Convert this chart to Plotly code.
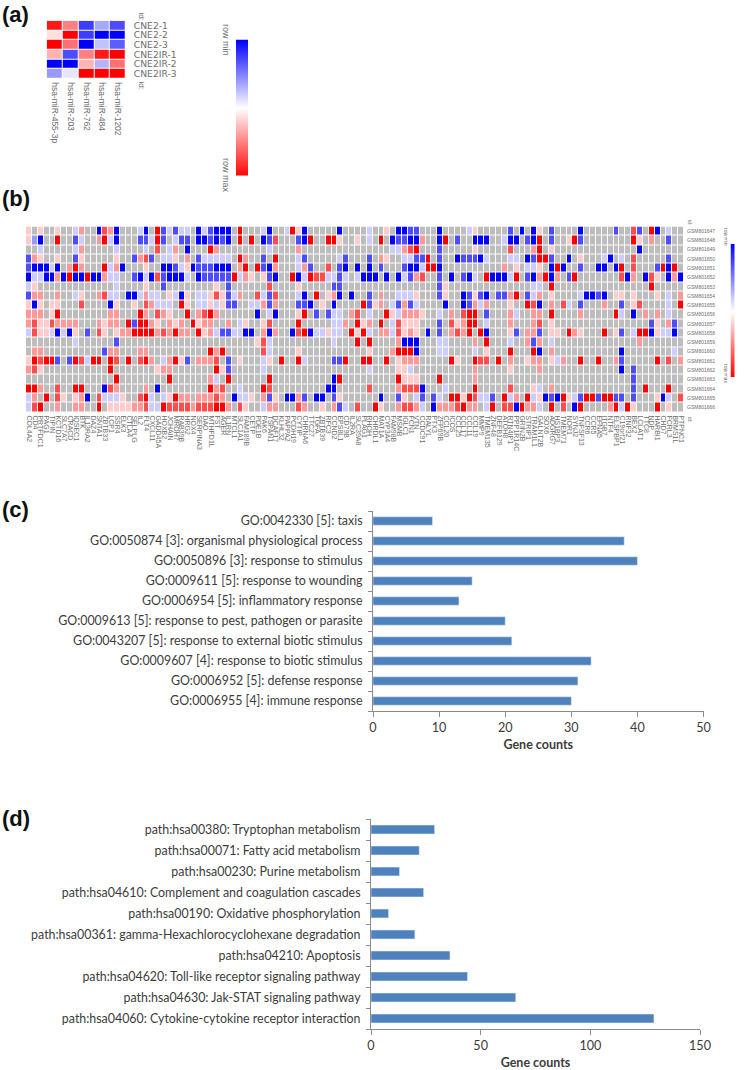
import plotly.graph_objects as go

W, H = 749, 1070

# ---------- panel (a) ----------
A_GENES = ["hsa-miR-455-3p", "hsa-miR-203", "hsa-miR-762", "hsa-miR-484", "hsa-miR-1202"]
A_SAMPLES = ["CNE2-1", "CNE2-2", "CNE2-3", "CNE2IR-1", "CNE2IR-2", "CNE2IR-3"]
A_VALUES = [
    [.95, .75, .12, .33, .15],
    [.56, 1, .12, 0, 0],
    [1, .78, 0, .38, .18],
    [.65, .15, .75, .95, 1],
    [0, 0, .65, .35, .78],
    [.3, .45, 1, 1, 1],
]
LEGEND_STOPS = [0, .5, 1]

# ---------- panel (b) ----------
B_GENES = """COL4A2 CD4 PRTFDC1 PAG1 TIPIN KCTD16 SLC7A7 CRACD IQSEC1 BTK IL13RA2 DAZ4 SNTA1 ZBTB33 LCP1 SSR4 ELK3 CTLA4
SELPLG IL2 FLT4 CXCL11 GADD45A HOXB2 JCHAIN MROH7 RAB39B HRG2 NOX4 SERPINA3 DAO MTHFD1L FST AGER IL1RN MTCL1 SLC1A1 FAM189B
CETP PDE1B PAK6 TSPAN1 DCAF17 KLHL32 PAPPA2 PCDH19 CYTIP CHRNA6 TTC27 TGFA ZBTB39 RFC3 CCND2 EPS8L1 CD79B IL2RA SLC39A8 PLAG1
RHOH CHRDL1 MAT1A CYP3A4 FAM98B MSMB IGLC1 FCN1 VTN CCDC91 RALYL PTX3 ZFP69B CCL20 ICOS CCL25 CCL17 CCL11 CCL19 MMP9 TMEM135
ZNF48 DEFB129 ATOH8 RTN4IP1 PPP1R14C GRIN2B STRIP1 TRAM1L1 GALNT2B SOX6 ADGRG7 HS1BP3 TMEM71 NOR1 SYNJ2 TNFSF13 CCR6 CCR5 EFNA5
ITGB7 NTF4 ELSPBP1 C19orf21 RNF32 BEX2 LCLAT1 TTC8 NDP HARBI1 CHD7 FCRL3 BRMS1L PTPNC1""".split()
B_SAMPLES = [f"GSM8016{n}" for n in range(47, 67)]

# level letters, blue (row min) to red (row max); absent cells are the grey "no value"
LEVELS = {"B": 0, "b": .15, "l": .3, "c": .4, "q": .6, "p": .7, "r": .85, "R": 1}

HEAT_LEFT = [
    "0q 2q 5q 8c 9p 12B 13r 14p 15B 19c 20B 22R 23b 24c 25b 26c 27c 29B 30c 31b 32B 33B 34B 36R",
    "0q 1l 2B 5R 8b 9c 12p 13R 14c 15B 19b 20b 21c 22R 23b 25c 26b 27b 29B 30B 31b 32B 33b 34B 36R",
    "2c 8c 9p 15c 20c 22r 24c 25p 27B 31R 32p",
    "0b 1p 2q 5q 8b 9q 15q 18b 19p 20r 21b 23c 24c 25q 27p 29b 30c 31c 32c 33c 34c 36R 37p",
    "0b 1B 2B 3B 4c 5B 7p 8R 9p 13R 14c 15p 16B 20q 23B 24B 25b 26c 27q 28B 29b 30b 31b 32B 33B 34B 36p 37R",
    "0B 1c 2c 3B 4B 5p 6B 7R 8B 9B 10R 11B 12B 13p 14c 15c 18b 19B 20c 21B 22r 23b 24B 25B 26B 27c 29B 30b 31b 32b 33b 34b 35R 36c 37p",
    "0c 1q 15c 20q 23b 32q 34b",
    "0b 1p 2p 5p 8c 9q 12p 13r 14c 15c 17B 18B 19c 20p 21c 22c 24q 25c 26B 27q 29c 30c 31q 32r 33q 34b 35c 36p",
    "0q 1B 2q 4q 5q 9r 14B 15q 18q 20r 21p 22c 23c 24c 26R 27q 29c 30c 31q 32c 33q 34b 35b",
    "0p 1p 2p 4q 5R 14p 15p 19R 20p 22r 23p 24q 27R 29p 30r 31R 32p",
    "0p 1r 2q 3q 4r 5p 6p 7p 8p 12p 13q 14p 15p 17R 18b 19R 20R 21p 22q 24p 25q 26p 28R 29q 30p 31p 34p 36c 37q",
    "0c 1r 2q 3q 4c 5B 6c 7B 8q 10b 12r 13q 15q 16p 17p 18R 19R 20R 21R 22p 23r 24p 25R 26p 27p 29R 30q 31p 32c 33b 34b 35c 36c 37B",
    "8c 15b",
    "1p 2p 13b 14p 15p 19p 20p 31R 32p 33R",
    "0q 1R 2r 3R 4R 5b 7b 8R 9r 10c 11R 12R 14R 15r 17R 19r 20R 21p 23c 24p 25R 26q 27b 29p 30p 31p 32r 34b 36q",
    "0p 1r 2q 14R 22q 23p 24p 32R 33q 34b",
    "15R 24R 31p 32c 34R",
    "0R 1R 2p 5r 8R 9R 13B 14r 15p 20p 22B 31R 32p 33r 36c",
    "0c 1p 3R 5r 6q 8q 9p 10B 12r 13c 14c 15c 16q 19r 20R 21c 23c 24q 25R 26p 27p 29p 30p 31p 32r 33p 35B 36c 37c",
    "0c 1r 2R 5p 8p 9p 12R 14q 15q 16q 17q 18p 19p 20r 21c 22c 23R 24r 25r 26r 27r 28p 29r 30r 31r 32R 33R 34p 36r 37q",
]
HEAT_MIDDLE = [
    "40c 41B 44c 45R 46q 47B 53B 58c 61q 63B 64B 65b 66b 70B 75c 76q",
    "38R 40B 41b 42r 46b 47B 48R 51R 52R 53q 56q 58c 60R 62B 63b 64b 65B 66B 67p 70B 71R 73b 76B 77B 78B",
    "41c 46p 62c 63c 64p 65r 66R 70b 76q",
    "40b 42R 46c 47b 53c 54b 58b 60p 61q 64c 65c 66b 67b 68R 70b 73B 74b 75b 76b 77B 78c",
    "39R 40b 41B 42p 46c 47p 48b 51r 53b 54B 56B 58B 60b 64b 65B 66B 67c 68R 69R 70B",
    "38q 40q 41b 42B 45R 46B 47c 48R 49r 50r 51c 52c 53b 54c 56c 57B 58B 59B 61B 63B 64c 65b 66p 67r 70b 72B 74b 75B 76c 78R 79B",
    "41r 46q 52b 53b 70b 71q",
    "39r 40c 41b 42r 46c 47B 49R 51q 52p 53B 55B 58b 60p 63c 64c 65c 66q 70b 71q 74B 75b 76q 77b 78B",
    "38c 39c 40p 41b 42p 46b 47b 48B 50q 52B 57R 58b 59q 60p 62c 63b 64p 65b 66c 71B 74B 75b 76p 77c 78p",
    "39B 41c 42B 46q 47R 49b 51b 52c 53c 55p 56r 58c 61R 62q 63c 64p 65p 66p 67q 70c 72p 74r 75R 76R 78b",
    "40q 41r 46R 52c 53c 54p 56R 57q 58p 60R 62c 63r 64q 65q 66q 70b 72r 73q 74p 75R 76R 78c",
    "38B 40p 41B 42p 45B 46r 47R 48B 49c 50c 51q 52c 53c 55R 56q 57R 58c 60p 61p 62c 63r 64q 65p 66q 68B 70b 72p 73r 74p 75R 77R 78B",
    "39q 40r 41c 52c 56R 58R 63p 64B 65B 66B 70c 71c 76p 78R",
    "40r 41c 46q 58q 62p 63R 64R 65R 66B 70c 71c 76c 78q",
    "40c 41q 43R 46R 47c 52b 53b 54R 57R 58R 61R 63q 64p 65p 66p 72R 73q 76R 77r 78r",
    "40c 58c 63q 64q 65c 76p",
    "41R 52B 53R 63R 64q 65q 66q 70R 76p",
    "40R 41r 51B 52B 58r 63p 64r 65r 66r 67B 71c 76R",
    "38q 40p 41b 42q 44B 45B 46p 47b 49B 50B 52b 53q 60B 63b 64q 66c 67b 69b 70c 72R 73R 74q 75R 76r 77c 78c 79b",
    "40c 41p 42p 46r 47p 50q 52p 53b 54c 56r 59R 60q 63p 64r 65r 66p 67c 69B 70p 71p 72p 73r 74R 75p 76p 78c 79R",
]
HEAT_RIGHT = [
    "82b 84B 86B 87q 89b 94B 100b 103r 104b 106R 107B 109c",
    "81c 82B 83B 85b 86B 87R 89b 92q 93R 94b 103R 104q 106p 109b",
    "82r 86p 87R 89q 104B",
    "82c 83c 85B 86b 87R 88R 89b 92B 94q 98c 99B 101c 103r 109b",
    "81p 83q 85c 86c 87q 89B 90R 91B 94b 97B 98B 100B 101R 103r 107b 108R 109B 110R",
    "80B 81B 82c 83R 85b 86B 87p 88R 89B 90p 92b 93R 101r 102B 103p 105B 106r 107q 109B 110p 111B",
    "86c 87c 89R 106R",
    "80b 81b 82p 83R 85b 86c 87p 89q 94c 95B 96B 97b 98B 100q 101q 103q 107q 109c 111p",
    "82q 85R 86r 87B 89p 91r 92c 94b 98p 101b 103q 104r 109c 111R",
    "82p 83c 86p 87p 89R 94p 100R 101c 103B 105p 107p 109c",
    "82p 86p 87r 89q 106b 107q 109p 110b",
    "82q 83b 85p 86p 87b 89q 90q 92R 93p 94q 98R 100q 101b 103c 104R 105R 106B 107q 108c 109c 110B",
    "82c 85p 86b 87p 89c 104p",
    "82R 86R 87B 89p 101B 110c",
    "80R 82p 85q 86p 87p 89q 90c 91p 94R 97R 100p 101b 107R 109r 111p",
    "82q 87p 101B 103b",
    "103b",
    "82r 86q 87c 89p 103b 105R 109R",
    "81R 82c 83p 85R 86c 87q 88B 89b 90B 91R 92q 93c 94b 95R 96R 97b 98R 99R 100b 101b 103b 107q 108B 109c 111r",
    "81r 82r 83B 84R 85p 86p 87c 89R 91r 93B 94R 99p 100R 101c 102R 103q 107R 109q",
]

# ---------- panels (c) and (d) ----------
GO_TERMS = [
    "GO:0042330 [5]: taxis", "GO:0050874 [3]: organismal physiological process",
    "GO:0050896 [3]: response to stimulus", "GO:0009611 [5]: response to wounding",
    "GO:0006954 [5]: inflammatory response", "GO:0009613 [5]: response to pest, pathogen or parasite",
    "GO:0043207 [5]: response to external biotic stimulus", "GO:0009607 [4]: response to biotic stimulus",
    "GO:0006952 [5]: defense response", "GO:0006955 [4]: immune response",
]
GO_COUNTS = [9, 38, 40, 15, 13, 20, 21, 33, 31, 30]
PATHWAYS = [
    "path:hsa00380: Tryptophan metabolism", "path:hsa00071: Fatty acid metabolism",
    "path:hsa00230: Purine metabolism", "path:hsa04610: Complement and coagulation cascades",
    "path:hsa00190: Oxidative phosphorylation", "path:hsa00361: gamma-Hexachlorocyclohexane degradation",
    "path:hsa04210: Apoptosis", "path:hsa04620: Toll-like receptor signaling pathway",
    "path:hsa04630: Jak-STAT signaling pathway", "path:hsa04060: Cytokine-cytokine receptor interaction",
]
PATH_COUNTS = [29, 22, 13, 24, 8, 20, 36, 44, 66, 129]


def fx(x):
    return x / W


def fy(y):
    return 1 - y / H


def dom_x(a, b):
    return [fx(a), fx(b)]


def dom_y(top, bottom):
    return [fy(bottom), fy(top)]


BWR = [[0, "#0000FF"], [.5, "#FFFFFF"], [1, "#FF0000"]]
GREY_TXT = "#6e6e6e"
BAR_COLOR = "#4F81BD"
AXIS_GREY = "#8c8c8c"
CLEAR = "rgba(0,0,0,0)"
BAR_FONT = dict(family="Lato", size=12.4, color="#3c3c3c")

fig = go.Figure()

# (a) heat map
fig.add_trace(go.Heatmap(
    z=A_VALUES, x=A_GENES, y=A_SAMPLES, zmin=0, zmax=1, colorscale=BWR, showscale=False,
    xgap=1, ygap=1, xaxis="x", yaxis="y",
))

# (b) heat map
n_rows, n_cols = len(B_SAMPLES), len(B_GENES)
matrix = [[None] * n_cols for _ in range(n_rows)]
for part in (HEAT_LEFT, HEAT_MIDDLE, HEAT_RIGHT):
    for r, row in enumerate(part):
        for cell in row.split():
            matrix[r][int(cell[:-1])] = LEVELS[cell[-1]]
grey = [[1 if v is None else None for v in row] for row in matrix]
fig.add_trace(go.Heatmap(
    z=grey, x=list(range(n_cols)), y=B_SAMPLES, zmin=0, zmax=1,
    colorscale=[[0, "#BDBDBD"], [1, "#BDBDBD"]], showscale=False, xgap=1, ygap=1,
    xaxis="x2", yaxis="y2", hoverongaps=False,
))
fig.add_trace(go.Heatmap(
    z=matrix, x=list(range(n_cols)), y=B_SAMPLES, zmin=0, zmax=1, colorscale=BWR, showscale=False,
    xgap=1, ygap=1, xaxis="x2", yaxis="y2", hoverongaps=False,
))

# (c), (d) bars
fig.add_trace(go.Bar(x=GO_COUNTS, y=list(range(len(GO_TERMS))), orientation="h",
                     marker_color=BAR_COLOR, width=0.42, xaxis="x3", yaxis="y3", showlegend=False))
fig.add_trace(go.Bar(x=PATH_COUNTS, y=list(range(len(PATHWAYS))), orientation="h",
                     marker_color=BAR_COLOR, width=0.42, xaxis="x4", yaxis="y4", showlegend=False))

# colour legends for (a) and (b)
for xa, ya in (("x5", "y5"), ("x6", "y6")):
    fig.add_trace(go.Heatmap(
        z=[[v] for v in LEGEND_STOPS], x=[0], y=list(range(len(LEGEND_STOPS))),
        zmin=0, zmax=1, colorscale=BWR, showscale=False, zsmooth="best", xaxis=xa, yaxis=ya,
    ))


def bar_axes(labels, xdom, ydom, xmax, dtick, anchor_x, anchor_y):
    n = len(labels)
    xa = dict(domain=xdom, range=[0, xmax], dtick=dtick, showgrid=False, zeroline=False, anchor=anchor_y,
              showline=True, linecolor=AXIS_GREY, linewidth=1, ticks="outside", ticklen=5,
              tickcolor=AXIS_GREY, tickfont=dict(family="Lato", size=12.6, color="#3c3c3c"),
              title=dict(text="<b>Gene counts</b>", font=dict(family="Lato", size=12.5, color="#3c3c3c"), standoff=6))
    ya = dict(domain=ydom, range=[n - .5, -.5], showgrid=False, zeroline=False, showline=True, anchor=anchor_x,
              linecolor=AXIS_GREY, linewidth=1, tickvals=list(range(n)), ticktext=labels,
              ticks="outside", ticklen=7, tickcolor=CLEAR, tickfont=BAR_FONT,
              minor=dict(tickvals=[i - .5 for i in range(n + 1)], ticks="outside", ticklen=4,
                         tickcolor=AXIS_GREY, showgrid=False))
    return xa, ya


x3, y3 = bar_axes(GO_TERMS, dom_x(373, 703.5), dom_y(511, 711), 50, 10, "x3", "y3")
x4, y4 = bar_axes(PATHWAYS, dom_x(371, 700), dom_y(819, 1029), 150, 50, "x4", "y4")


def hidden(domain, anchor, **kw):
    return dict(domain=domain, anchor=anchor, visible=False, **kw)


fig.update_layout(
    width=W, height=H, margin=dict(l=0, r=0, t=0, b=0, autoexpand=False), showlegend=False,
    paper_bgcolor="white", plot_bgcolor="white",
    font=dict(family="Liberation Sans"),
    xaxis=dict(domain=dom_x(46.7, 126), anchor="y", showgrid=False, zeroline=False, side="bottom",
               tickangle=90, ticks="outside", ticklen=1, tickcolor=CLEAR, tickmode="linear", dtick=1,
               tickfont=dict(family="Liberation Sans", size=8.5, color=GREY_TXT)),
    yaxis=dict(domain=dom_y(20.7, 78.5), anchor="x", showgrid=False, zeroline=False, side="right",
               autorange="reversed", ticks="outside", ticklen=5, tickcolor=CLEAR, tickmode="linear", dtick=1,
               tickfont=dict(family="DejaVu Sans", size=9.2, color=GREY_TXT)),
    xaxis2=dict(domain=dom_x(26, 684), anchor="y2", range=[-.5, n_cols - .5], showgrid=False, zeroline=False,
                tickmode="array", tickvals=list(range(n_cols)), ticktext=B_GENES, tickangle=90,
                ticks="outside", ticklen=1, tickcolor=CLEAR,
                tickfont=dict(family="Liberation Sans", size=7, color=GREY_TXT)),
    yaxis2=dict(domain=dom_y(226.5, 412), anchor="x2", showgrid=False, zeroline=False, side="right",
                autorange="reversed", ticks="outside", ticklen=1, tickcolor=CLEAR, tickmode="linear", dtick=1,
                tickfont=dict(family="Liberation Sans", size=5, color=GREY_TXT)),
    xaxis3=x3, yaxis3=y3, xaxis4=x4, yaxis4=y4,
    xaxis5=hidden(dom_x(236, 248.5), "y5"),
    yaxis5=hidden(dom_y(39.5, 176), "x5", range=[2, 0]),
    xaxis6=hidden(dom_x(730.5, 735), "y6"),
    yaxis6=hidden(dom_y(244, 377), "x6", range=[2, 0]),
)


def note(text, x, y, size, color=GREY_TXT, angle=0, bold=False, family="Liberation Sans", anchor="left"):
    fig.add_annotation(text=f"<b>{text}</b>" if bold else text, x=fx(x), y=fy(y), xref="paper", yref="paper",
                       showarrow=False, textangle=angle, xanchor=anchor, yanchor="middle",
                       font=dict(family=family, size=size, color=color))


for label, y in (("(a)", 14), ("(b)", 198), ("(c)", 510), ("(d)", 818)):
    note(label, 0, y, 22, "#111111", bold=True)
note("id:", 134, 16, 8, angle=90)
note("id:", 134, 85, 8, angle=90)
note("row min", 226, 40, 9, angle=90, anchor="center")
note("row max", 226, 175, 9, angle=90, anchor="center")
note("id:", 685, 222, 5, angle=90)
note("id:", 685, 419, 5, angle=90)
note("row min", 726, 237, 5, angle=90, anchor="center")
note("row max", 726, 373, 5, angle=90, anchor="center")

fig.write_html("out.html", post_script="document.body.style.margin='0';", config={"displayModeBar": False})
